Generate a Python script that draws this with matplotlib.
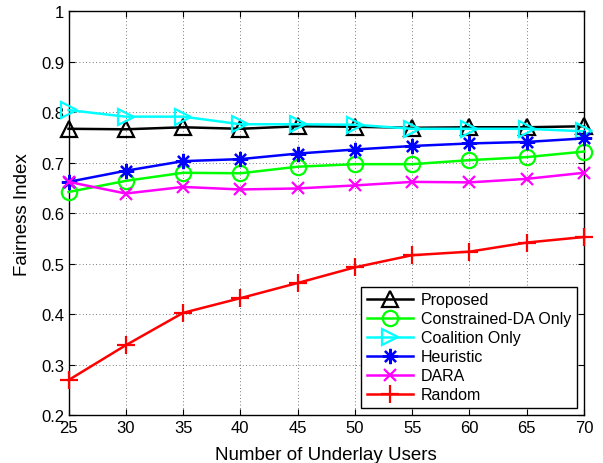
import matplotlib
matplotlib.use("Agg")
import matplotlib.pyplot as plt

users = [25, 30, 35, 40, 45, 50, 55, 60, 65, 70]
proposed = [0.767, 0.766, 0.770, 0.767, 0.772, 0.771, 0.769, 0.770, 0.770, 0.772]
constrained_da = [0.642, 0.664, 0.680, 0.679, 0.692, 0.697, 0.697, 0.705, 0.711, 0.722]
coalition = [0.804, 0.791, 0.791, 0.776, 0.776, 0.775, 0.767, 0.767, 0.767, 0.762]
heuristic = [0.662, 0.684, 0.703, 0.707, 0.718, 0.726, 0.733, 0.738, 0.741, 0.748]
dara = [0.662, 0.639, 0.652, 0.647, 0.649, 0.655, 0.662, 0.661, 0.668, 0.680]
random_ = [0.270, 0.339, 0.403, 0.432, 0.462, 0.493, 0.517, 0.524, 0.542, 0.553]

labels = ["Proposed", "Constrained-DA Only", "Coalition Only", "Heuristic", "DARA", "Random"]
xticks = [25, 30, 35, 40, 45, 50, 55, 60, 65, 70]
yticks = [0.2, 0.3, 0.4, 0.5, 0.6, 0.7, 0.8, 0.9, 1.0]
ytick_labels = ["0.2", "0.3", "0.4", "0.5", "0.6", "0.7", "0.8", "0.9", "1"]

plt.rcParams['font.family'] = ['Liberation Sans', 'DejaVu Sans']

fig = plt.figure(figsize=(6.03, 4.64), dpi=100)
ax = fig.add_axes([0.1136, 0.1024, 0.855, 0.8718])

series = [proposed, constrained_da, coalition, heuristic, dara, random_]
styles = [
    dict(color="black", marker="^", mfc="none", ms=12, mew=1.6),
    dict(color=(0, 1, 0), marker="o", mfc="none", ms=11, mew=1.6),
    dict(color=(0, 1, 1), marker=">", mfc="none", ms=12, mew=1.6),
    dict(color=(0, 0, 1), marker=(8, 2, 0), ms=11, mew=1.6),
    dict(color=(1, 0, 1), marker="x", ms=9, mew=1.6),
    dict(color=(1, 0, 0), marker="+", ms=13, mew=1.6),
]
for vals, lab, st in zip(series, labels, styles):
    ax.plot(users, vals, lw=1.8, label=lab, clip_on=False, zorder=3, **st)

ax.set_xlim(25, 70)
ax.set_ylim(0.2, 1.0)
ax.set_xticks(xticks)
ax.set_xticklabels([str(v) for v in xticks])
ax.set_yticks(yticks)
ax.set_yticklabels(ytick_labels)
ax.tick_params(direction="in", top=True, right=True, labelsize=12, length=4, width=0.8, pad=3)
ax.grid(True, linestyle=(0, (1, 3)), color="black", linewidth=0.6, alpha=0.7)
for s in ax.spines.values():
    s.set_linewidth(1.0)
ax.set_xlabel("Number of Underlay Users", fontsize=13.5, labelpad=8)
ax.set_ylabel("Fairness Index", fontsize=13.5, labelpad=7)

leg = ax.legend(loc="lower right", bbox_to_anchor=(0.9864, 0.0185), borderaxespad=0,
                fontsize=11.5, frameon=True, fancybox=False, edgecolor="black", framealpha=1,
                handlelength=2.9, borderpad=0.35, labelspacing=0.25, handletextpad=0.5)
leg.get_frame().set_linewidth(1.0)

fig.savefig("out.png", dpi=100)
